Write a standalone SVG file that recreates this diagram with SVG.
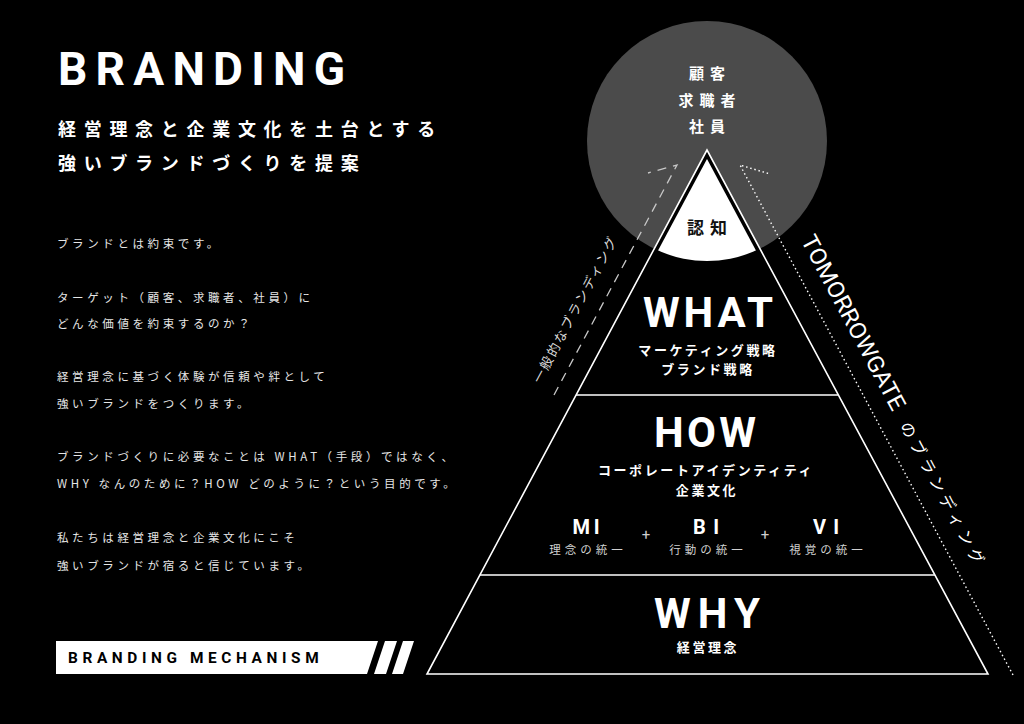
<svg xmlns="http://www.w3.org/2000/svg" width="1024" height="724" viewBox="0 0 1024 724">
<style>
.jp{font-family:"Noto Sans CJK JP","Noto Sans",sans-serif}
.en{font-family:Roboto,"Liberation Sans",sans-serif}
.title{font-size:46px;font-weight:700;fill:#fff}
.sub{font-size:18px;font-weight:700;fill:#fff;letter-spacing:7.7px}
.body{font-size:11.5px;fill:#e6e6e6;letter-spacing:3.6px}
.lvl{font-size:42px;font-weight:700;fill:#fff;text-anchor:middle}
.lab{font-size:13px;font-weight:700;fill:#fff;letter-spacing:2.6px;text-anchor:middle}
.id{font-size:20px;font-weight:700;fill:#fff;text-anchor:middle}
.idl{font-size:11.5px;fill:#d0d0d0;letter-spacing:4px;text-anchor:middle}
.plus{font-size:15px;fill:#cfcfcf;text-anchor:middle}
.aud{font-size:15px;font-weight:700;fill:#fff;letter-spacing:6px;text-anchor:middle}
.tri{fill:#000;stroke:#fff;stroke-width:1.6;stroke-linejoin:miter}
.div{stroke:#fff;stroke-width:1.6;fill:none}
.dash{stroke:#c8c8c8;stroke-width:1.3;fill:none;stroke-dasharray:9 7}
.dot{stroke:#fff;stroke-width:1.4;fill:none;stroke-dasharray:1.5 2.8}
</style>
<defs>
<clipPath id="cc"><circle cx="707" cy="141" r="120"/></clipPath>
</defs>
<rect width="1024" height="724" fill="#000"/>

<g id="heading">
<text class="en title" x="58" y="85" textLength="287">BRANDING</text>
<text class="jp sub" x="58" y="136">経営理念と企業文化を土台とする</text>
<text class="jp sub" x="58" y="170">強いブランドづくりを提案</text>
</g>

<g id="body-text" class="jp body">
<text x="57" y="248">ブランドとは約束です。</text>
<text x="57" y="302">ターゲット（顧客、求職者、社員）に</text>
<text x="57" y="328">どんな価値を約束するのか？</text>
<text x="57" y="381">経営理念に基づく体験が信頼や絆として</text>
<text x="57" y="408">強いブランドをつくります。</text>
<text x="57" y="461">ブランドづくりに必要なことは WHAT（手段）ではなく、</text>
<text x="57" y="488">WHY なんのために？HOW どのように？という目的です。</text>
<text x="57" y="542">私たちは経営理念と企業文化にこそ</text>
<text x="57" y="570">強いブランドが宿ると信じています。</text>
</g>

<g id="mechanism-bar">
<polygon points="56,641 378,641 367,674 56,674" fill="#fff"/>
<polygon points="385,641 397,641 386,674 374,674" fill="#fff"/>
<polygon points="403,641 414,641 403,674 392,674" fill="#fff"/>
<text class="en" x="68" y="663" font-size="15.4" font-weight="700" fill="#000" letter-spacing="4.6">BRANDING MECHANISM</text>
</g>

<g id="audience">
<circle cx="707" cy="141" r="120" fill="#4b4b4b"/>
<text class="jp aud" x="710" y="79">顧客</text>
<text class="jp aud" x="710" y="106">求職者</text>
<text class="jp aud" x="710" y="132">社員</text>
</g>

<g id="connectors">
<polyline class="dash" points="554,395 677,165 648,173"/>
<polyline class="dot" points="1013,675 740,165 770,174"/>
</g>

<g id="pyramid">
<polygon class="tri" points="707,150 427,674 988,674"/>
<line class="div" x1="576.1" y1="395" x2="838.4" y2="395"/>
<line class="div" x1="479.9" y1="575" x2="934.9" y2="575"/>
</g>

<g id="ninchi">
<polygon points="707,159 600,359 814,359" fill="#fff" clip-path="url(#cc)"/>
<text class="jp" x="710" y="234" font-size="17" font-weight="700" fill="#111" letter-spacing="6" text-anchor="middle">認知</text>
</g>

<g id="what">
<text class="en lvl" x="708" y="327" textLength="130">WHAT</text>
<text class="jp lab" x="708" y="355">マーケティング戦略</text>
<text class="jp lab" x="708" y="374">ブランド戦略</text>
</g>

<g id="how">
<text class="en lvl" x="705" y="447" textLength="102">HOW</text>
<text class="jp lab" x="706" y="475">コーポレートアイデンティティ</text>
<text class="jp lab" x="707" y="495">企業文化</text>
</g>

<g id="mi">
<text class="en id" x="586" y="534" textLength="27">MI</text>
<text class="jp idl" x="588" y="554">理念の統一</text>
</g>
<g id="bi">
<text class="en id" x="706" y="534" textLength="26">BI</text>
<text class="jp idl" x="708" y="554">行動の統一</text>
</g>
<g id="vi">
<text class="en id" x="826" y="534" textLength="26">VI</text>
<text class="jp idl" x="828" y="554">視覚の統一</text>
</g>
<text class="en plus" x="646" y="540">+</text>
<text class="en plus" x="765" y="540">+</text>

<g id="why">
<text class="en lvl" x="707" y="628" textLength="106">WHY</text>
<text class="jp lab" x="708" y="652" letter-spacing="3">経営理念</text>
</g>

<g id="label-general" transform="translate(554,395) rotate(-61.9)">
<text class="jp" x="3" y="-17" font-size="13.2" fill="#d9d9d9" letter-spacing="1.9">一般的なブランディング</text>
</g>

<g id="label-tomorrowgate" transform="translate(740,165) rotate(61.9)">
<text class="en" x="95" y="-18" font-size="23" fill="#fff" textLength="195" lengthAdjust="spacingAndGlyphs">TOMORROWGATE</text>
<text class="jp" x="305" y="-18" font-size="16" fill="#fff" letter-spacing="4.6">のブランディング</text>
</g>
</svg>
